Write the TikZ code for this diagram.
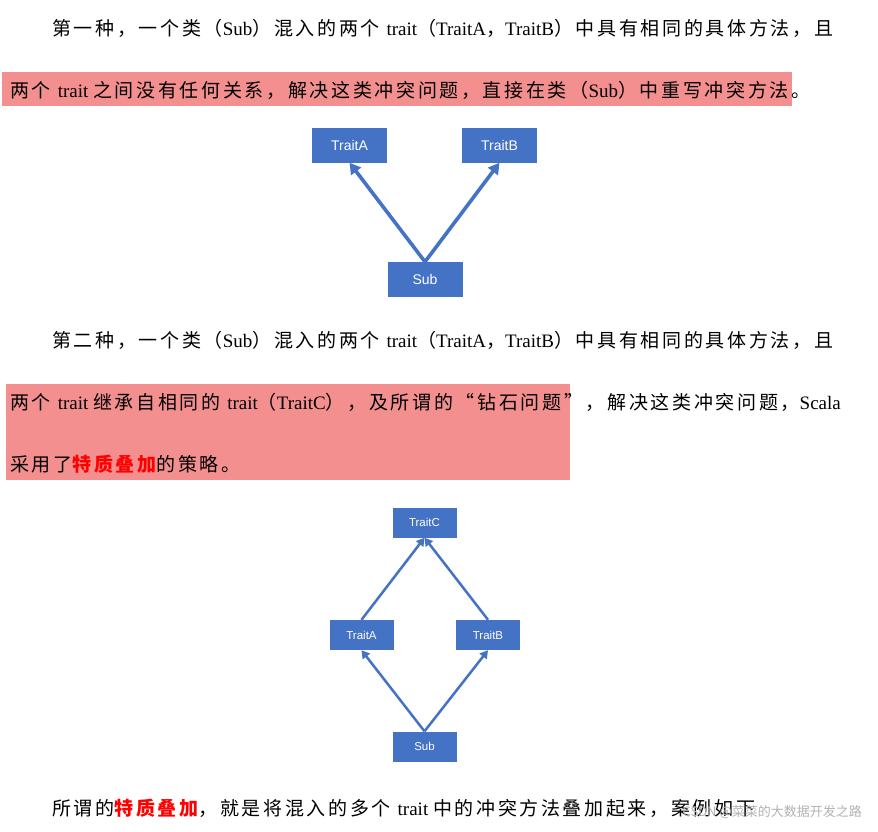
\documentclass[tikz,border=0pt]{standalone}
\usepackage{fontspec}
\setmainfont{Liberation Serif}
\newfontfamily\cjk[LetterSpace=14]{Noto Sans CJK SC}
\newfontfamily\wmfont{Noto Sans CJK SC}
\newfontfamily\boxfont{Liberation Sans}
\usetikzlibrary{arrows.meta}
\definecolor{bx}{HTML}{4472C4}
\definecolor{hl}{HTML}{F48F8F}
\begin{document}
\begin{tikzpicture}[x=1pt,y=-1pt,
  txt/.style={anchor=west,inner sep=0,font=\fontsize{19}{21}\selectfont},
  bbox/.style={fill=bx,text=white,font=\boxfont\fontsize{14}{16}\selectfont,inner sep=0,minimum width=75,minimum height=35},
  sbox/.style={fill=bx,text=white,font=\boxfont\fontsize{11.5}{13}\selectfont,inner sep=0,minimum width=64,minimum height=30},
  arr/.style={draw=bx,line width=3.6pt,-{Triangle[length=11pt,width=12pt]}},
  arr2/.style={draw=bx,line width=2.5pt,-{Triangle[length=8pt,width=9pt]}}]
\useasboundingbox (0,0) rectangle (878,831);
\fill[white] (0,0) rectangle (878,831);
\fill[hl] (2,72) rectangle (792,106);
\fill[hl] (6,384) rectangle (570,480);
\node[txt] (l1) at (52,28) {\cjk 第一种，一个类（\rmfamily Sub\cjk）混入的两个 \rmfamily trait\cjk（\rmfamily TraitA\cjk，\rmfamily TraitB\cjk）中具有相同的具体方法，且};
\node[txt] (l2) at (10,90) {\cjk 两个 \rmfamily trait \cjk 之间没有任何关系，解决这类冲突问题，直接在类（\rmfamily Sub\cjk）中重写冲突方法。};
\node[bbox] (a1) at (349.5,145) {TraitA};
\node[bbox] (b1) at (499.5,145) {TraitB};
\node[bbox] (s1) at (425,279.5) {Sub};
\draw[arr] (s1.north) -- (a1.south);
\draw[arr] (s1.north) -- (b1.south);
\node[txt] (l3) at (52,340) {\cjk 第二种，一个类（\rmfamily Sub\cjk）混入的两个 \rmfamily trait\cjk（\rmfamily TraitA\cjk，\rmfamily TraitB\cjk）中具有相同的具体方法，且};
\node[txt] (l4) at (10,402) {\cjk 两个 \rmfamily trait \cjk 继承自相同的 \rmfamily trait\cjk（\rmfamily TraitC\cjk），及所谓的“钻石问题”，解决这类冲突问题，\rmfamily Scala};
\node[txt] (l5) at (10,464) {\cjk 采用了{\bfseries\color{red}特质叠加}的策略。};
\node[sbox] (c2) at (424.5,522.5) {TraitC};
\node[sbox] (a2) at (361.5,635) {TraitA};
\node[sbox] (b2) at (488,635) {TraitB};
\node[sbox] (s2) at (424.5,746.5) {Sub};
\draw[arr2] (s2.north) -- (a2.south);
\draw[arr2] (s2.north) -- (b2.south);
\draw[arr2] (a2.north) -- (c2.south);
\draw[arr2] (b2.north) -- (c2.south);
\node[txt] (l6) at (52,808) {\cjk 所谓的{\bfseries\color{red}特质叠加}，就是将混入的多个 \rmfamily trait \cjk 中的冲突方法叠加起来，案例如下};
\node[anchor=east,inner sep=0,text=black!30,font=\wmfont\fontsize{13}{15}\selectfont] (wm) at (862,812) {CSDN @菜菜的大数据开发之路};
\end{tikzpicture}
\end{document}
